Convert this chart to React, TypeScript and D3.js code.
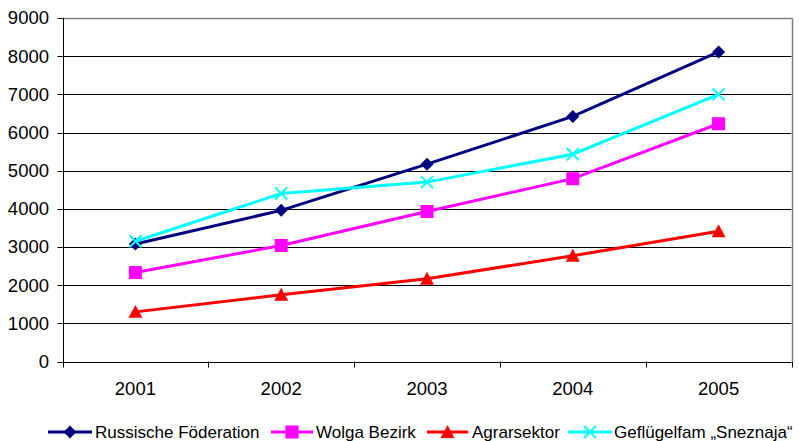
import React from "react";
import * as d3 from "d3";

const years = ["2001", "2002", "2003", "2004", "2005"];
const russ = [3080, 3960, 5170, 6420, 8110];
const wolga = [2330, 3040, 3930, 4790, 6230];
const agrar = [1300, 1750, 2170, 2770, 3410];
const sneznaja = [3150, 4400, 4700, 5430, 7000];
const yTicks = [0, 1000, 2000, 3000, 4000, 5000, 6000, 7000, 8000, 9000];

const seriesNames = ["Russische Föderation", "Wolga Bezirk", "Agrarsektor", "Geflügelfam „Sneznaja“"];
const seriesColors = ["#000080", "#FF00FF", "#FF0000", "#00FFFF"];
const seriesShapes = ["diamond", "square", "triangle", "x"];
const seriesData = [russ, wolga, agrar, sneznaja];

const W = 799, H = 441;
const left = 62.5, right = 791.5, top = 18, bottom = 361.5;
const FONT = "Liberation Sans, Arial, sans-serif";

function Marker({ shape, x, y, color }: { shape: string; x: number; y: number; color: string }) {
  if (shape === "diamond") {
    const r = 6.5;
    return <path d={`M${x},${y - r}L${x + r},${y}L${x},${y + r}L${x - r},${y}Z`} fill={color} />;
  }
  if (shape === "square") {
    const r = 6.5;
    return <rect x={x - r} y={y - r} width={2 * r} height={2 * r} fill={color} />;
  }
  if (shape === "triangle") {
    const r = 7;
    return <path d={`M${x},${y - r}L${x + r},${y + r * 0.85}L${x - r},${y + r * 0.85}Z`} fill={color} />;
  }
  const r = 6;
  return (
    <path d={`M${x - r},${y - r}L${x + r},${y + r}M${x - r},${y + r}L${x + r},${y - r}`} stroke={color} strokeWidth={2} fill="none" />
  );
}

export default function App() {
  const x = d3.scaleBand<string>().domain(years).range([left, right]).padding(0);
  const y = d3.scaleLinear().domain([0, 9000]).range([bottom, top]);
  const cx = (d: string) => (x(d) as number) + x.bandwidth() / 2;
  const line = d3
    .line<number>()
    .x((_, i) => cx(years[i]))
    .y((v) => y(v));
  const crisp = (v: number) => Math.round(v) + 0.5;

  const legendItems = [
    { x0: 48, x1: 92, tx: 95 },
    { x0: 271, x1: 313, tx: 316 },
    { x0: 427, x1: 468, tx: 472 },
    { x0: 568, x1: 612, tx: 614 },
  ];
  const legendY = 432;

  const boundaries = years.map((d) => x(d) as number).concat([right]);

  return (
    <svg width={W} height={H} style={{ position: "absolute", left: 0, top: 0, background: "#fff" }} fontFamily={FONT}>
      <rect x={0} y={0} width={W} height={H} fill="#fff" />
      {yTicks.slice(1).map((t) => (
        <line key={t} x1={left} x2={right} y1={crisp(y(t))} y2={crisp(y(t))} stroke="#000" strokeWidth={1} />
      ))}
      <line x1={left} x2={right} y1={crisp(top)} y2={crisp(top)} stroke="#808080" strokeWidth={1.5} />
      <line x1={crisp(right)} x2={crisp(right)} y1={top} y2={bottom} stroke="#808080" strokeWidth={1.5} />
      <line x1={crisp(left)} x2={crisp(left)} y1={top} y2={bottom + 1} stroke="#000" strokeWidth={1} />
      <line x1={left} x2={right} y1={crisp(bottom)} y2={crisp(bottom)} stroke="#000" strokeWidth={1} />
      {yTicks.map((t) => (
        <g key={t}>
          <line x1={left - 5} x2={left} y1={crisp(y(t))} y2={crisp(y(t))} stroke="#000" />
          <text x={49} y={y(t)} dy="0.35em" textAnchor="end" fontSize={18.5} fill="#000">
            {t}
          </text>
        </g>
      ))}
      {boundaries.map((b, i) => (
        <line key={i} x1={crisp(b)} x2={crisp(b)} y1={bottom} y2={bottom + 6} stroke="#000" />
      ))}
      {years.map((d) => (
        <text key={d} x={cx(d)} y={395} textAnchor="middle" fontSize={18.5} fill="#000">
          {d}
        </text>
      ))}
      {seriesData.map((s, si) => (
        <g key={si}>
          <path d={line(s) as string} fill="none" stroke={seriesColors[si]} strokeWidth={3} />
          {s.map((v, i) => (
            <Marker key={i} shape={seriesShapes[si]} x={cx(years[i])} y={y(v)} color={seriesColors[si]} />
          ))}
        </g>
      ))}
      {legendItems.map((it, i) => (
        <g key={i}>
          <line x1={it.x0} x2={it.x1} y1={legendY} y2={legendY} stroke={seriesColors[i]} strokeWidth={3} />
          <Marker shape={seriesShapes[i]} x={(it.x0 + it.x1) / 2} y={legendY} color={seriesColors[i]} />
          <text x={it.tx} y={437.5} fontSize={17} fill="#000">
            {seriesNames[i]}
          </text>
        </g>
      ))}
    </svg>
  );
}
